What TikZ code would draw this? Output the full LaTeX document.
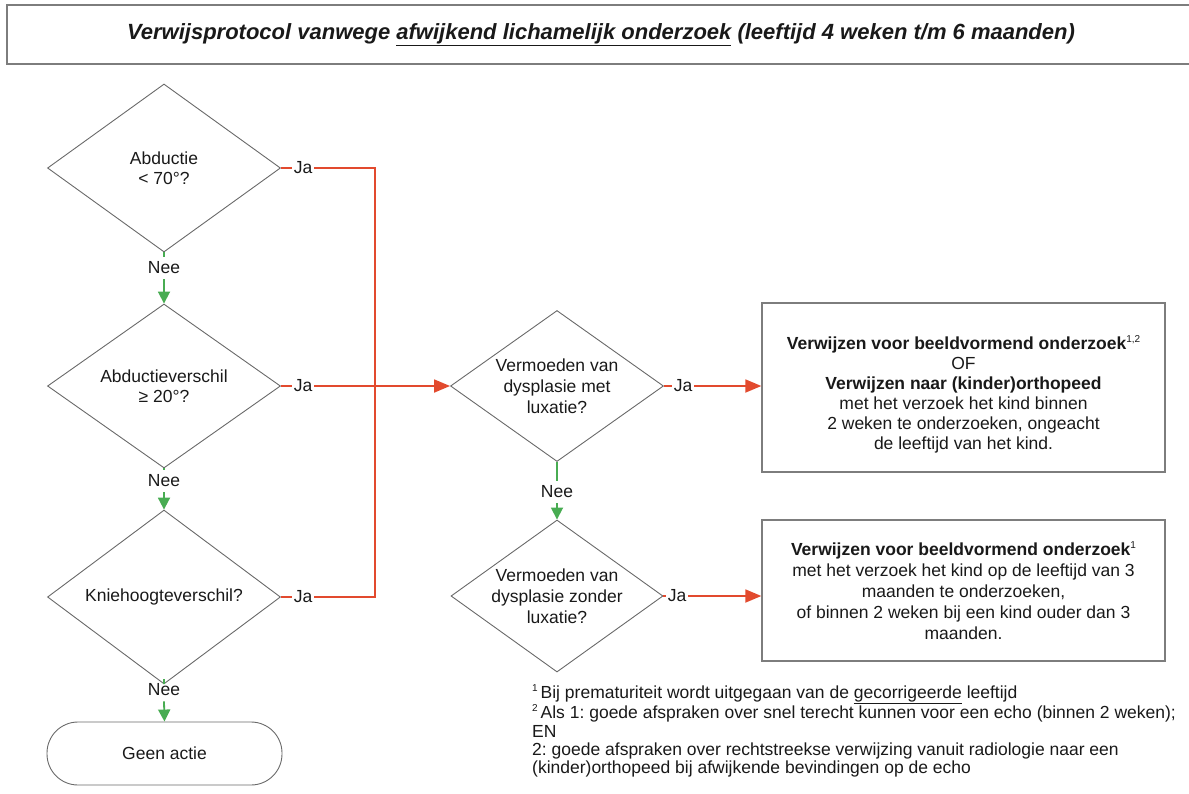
\documentclass[tikz,border=0pt]{standalone}
\usepackage{fontspec}
\setmainfont{Liberation Sans}
\usetikzlibrary{shapes.geometric,arrows.meta}
\definecolor{redline}{RGB}{226,74,46}
\definecolor{greenline}{RGB}{72,172,82}
\definecolor{edgegray}{RGB}{105,105,105}
\definecolor{boxgray}{RGB}{125,125,125}
\definecolor{txt}{RGB}{25,25,25}
\newcommand{\supnum}[1]{\raisebox{7pt}{\fontsize{10}{10}\selectfont #1}}
\frenchspacing
\begin{document}
\frenchspacing
\begin{tikzpicture}[x=1pt,y=-1pt,
  every node/.style={font=\fontsize{17.5}{20}\selectfont, text=txt},
  dec/.style={diamond, draw=edgegray, line width=0.9pt, inner sep=0pt, align=center, minimum width=#1},
  dec/.default=233pt,
  mdec/.style={dec=#1, inner sep=-14pt, font=\fontsize{17.5}{21}\selectfont},
  outbox/.style={draw=boxgray, line width=1.3pt, align=center, minimum width=403pt, inner sep=0pt},
  lab/.style={inner xsep=2pt, inner ysep=5pt},
  yes/.style={draw=redline, line width=1.8pt},
  yesarrow/.style={yes, -{Triangle[length=16pt,width=13pt]}},
  no/.style={draw=greenline, line width=1.8pt},
  noarrow/.style={no, -{Triangle[length=12pt,width=12pt]}}
]
\useasboundingbox (0,0) rectangle (1189,793);

% title
\node[draw=boxgray, line width=1.5pt, minimum width=1188pt, minimum height=59pt,
      font=\fontsize{22}{26}\selectfont\bfseries\itshape] (title) at (601,34.5)
  {Verwijsprotocol vanwege \underline{afwijkend lichamelijk onderzoek} (leeftijd 4 weken t/m 6 maanden)};

% left column
\node[dec, minimum height=168pt] (d1) at (164,168) {Abductie\\< 70°?};
\node[dec, minimum height=164pt] (d2) at (164,386) {Abductieverschil\\≥ 20°?};
\node[dec, minimum height=160pt] (d3) at (164,597) {Kniehoogteverschil?};
\node[draw=edgegray, line width=0.9pt, rounded corners=31pt, minimum width=235pt, minimum height=63pt] (end) at (164.5,753.5) {Geen actie};

\node[lab] (n1) at (164,268) {Nee};
\node[lab] (n2) at (164,481) {Nee};
\node[lab] (n3) at (164,690) {Nee};

\node[lab] (j1) at (303,168) {Ja};
\node[lab] (j2) at (303,386) {Ja};
\node[lab] (j3) at (303,597) {Ja};
\coordinate (jx) at (375,386);

% middle column
\node[mdec=213pt, minimum height=151pt] (m1) at (557,386) {Vermoeden van\\dysplasie met\\luxatie?};
\node[mdec=212pt, minimum height=152pt] (m2) at (557,596) {Vermoeden van\\dysplasie zonder\\luxatie?};
\node[lab] (nm) at (557,492) {Nee};
\node[lab] (jm1) at (683,386) {Ja};
\node[lab] (jm2) at (677,596) {Ja};

% outcome boxes
\node[outbox, minimum height=169pt] (b1) at (963.5,387.5)
  {\rule{0pt}{27pt}\textbf{Verwijzen voor beeldvormend onderzoek}\supnum{1,2}\\
   OF\\
   \textbf{Verwijzen naar (kinder)orthopeed}\\
   met het verzoek het kind binnen\\
   2 weken te onderzoeken, ongeacht\\
   de leeftijd van het kind.};
\node[outbox, minimum height=141pt, font=\fontsize{17.5}{21}\selectfont] (b2) at (963.5,590.5)
  {\textbf{Verwijzen voor beeldvormend onderzoek}\supnum{1}\\
   met het verzoek het kind op de leeftijd van 3\\
   maanden te onderzoeken,\\
   of binnen 2 weken bij een kind ouder dan 3\\
   maanden.};

% footnotes
\node[anchor=north west, align=left, inner sep=0pt, font=\fontsize{17.5}{18.4}\selectfont] (fn) at (532,684)
  {\supnum{1}\,Bij prematuriteit wordt uitgegaan van de \underline{gecorrigeerde} leeftijd\\
   \supnum{2}\,Als 1: goede afspraken over snel terecht kunnen voor een echo (binnen 2 weken);\\
   EN\\
   2: goede afspraken over rechtstreekse verwijzing vanuit radiologie naar een\\
   (kinder)orthopeed bij afwijkende bevindingen op de echo};

% Nee connectors
\draw[no] (d1.south) -- (n1.north);
\draw[noarrow] (n1.south) -- (d2.north);
\draw[no] (d2.south) -- (n2.north);
\draw[noarrow] (n2.south) -- (d3.north);
\draw[no] (d3.south) -- (n3.north);
\draw[noarrow] (n3.south) -- (end.north);
\draw[no] (m1.south) -- (nm.north);
\draw[noarrow] (nm.south) -- (m2.north);

% Ja connectors
\draw[yes] (d1.east) -- (j1.west);
\draw[yes] (d2.east) -- (j2.west);
\draw[yes] (d3.east) -- (j3.west);
\draw[yes] (j1.east) -| (jx);
\draw[yes] (j3.east) -| (jx);
\draw[yesarrow] (j2.east) -- (m1.west);
\draw[yes] (m1.east) -- (jm1.west);
\draw[yes] (m2.east) -- (jm2.west);
\draw[yesarrow] (jm1.east) -- (jm1.east -| b1.west);
\draw[yesarrow] (jm2.east) -- (jm2.east -| b2.west);
\end{tikzpicture}
\end{document}
